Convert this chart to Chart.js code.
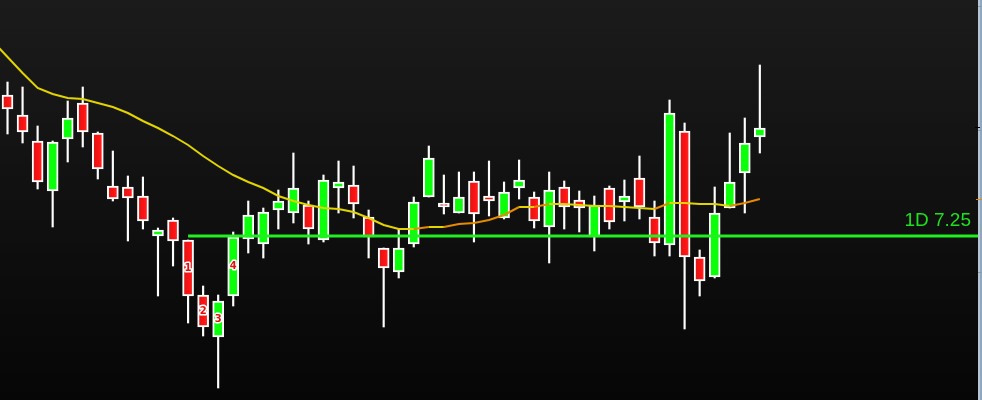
<!DOCTYPE html>
<html>
<head>
<meta charset="utf-8">
<script src="https://cdn.jsdelivr.net/npm/chart.js@4/dist/chart.umd.min.js"></script>
<style>
  html, body { margin: 0; padding: 0; background: #0b0b0b; }
  #wrap { width: 982px; height: 400px; }
</style>
</head>
<body>
<div id="wrap"><canvas id="chartCandles"></canvas></div>
<script>
// Daily candles, values
const opens  = [8.66, 8.46, 8.20, 7.70, 8.22, 8.58, 8.28, 7.75, 7.74, 7.65,
                7.25, 7.41, 7.21, 6.66, 6.24, 6.65, 7.22, 7.17, 7.51, 7.48,
                7.56, 7.21, 7.73, 7.76, 7.44, 7.13, 6.89, 7.17, 7.64, 7.58,
                7.48, 7.80, 7.65, 7.43, 7.73, 7.64, 7.34, 7.74, 7.61, 7.24,
                7.73, 7.59, 7.83, 7.44, 7.16, 8.30, 7.04, 6.84, 7.53, 7.88, 8.24];
const highs  = [8.79, 8.74, 8.35, 8.20, 8.60, 8.74, 8.29, 8.10, 7.85, 7.84,
                7.33, 7.43, 7.21, 6.75, 6.66, 7.29, 7.60, 7.53, 7.71, 8.08,
                7.60, 7.86, 8.00, 7.95, 7.51, 7.13, 7.32, 7.64, 8.15, 7.86,
                7.89, 7.89, 8.00, 7.79, 8.01, 7.69, 7.89, 7.80, 7.70, 7.65,
                7.75, 7.81, 8.05, 7.60, 8.61, 8.38, 7.11, 7.74, 8.28, 8.43, 8.96];
const lows   = [8.27, 8.18, 7.72, 7.34, 7.99, 8.14, 7.82, 7.60, 7.20, 7.32,
                6.65, 6.95, 6.38, 6.25, 5.73, 6.55, 7.08, 7.03, 7.32, 7.38,
                7.17, 7.19, 7.48, 7.43, 7.03, 6.34, 6.83, 7.14, 7.64, 7.47,
                7.48, 7.19, 7.45, 7.42, 7.62, 7.33, 6.98, 7.32, 7.29, 7.10,
                7.32, 7.40, 7.42, 7.05, 7.05, 6.32, 6.65, 6.83, 7.53, 7.48, 8.08];
const closes = [8.52, 8.29, 7.79, 8.19, 8.43, 8.29, 7.92, 7.62, 7.63, 7.40,
                7.31, 7.20, 6.65, 6.34, 6.60, 7.24, 7.46, 7.49, 7.60, 7.73,
                7.32, 7.81, 7.79, 7.57, 7.24, 6.93, 7.13, 7.59, 8.03, 7.54,
                7.64, 7.47, 7.60, 7.69, 7.81, 7.40, 7.71, 7.54, 7.53, 7.56,
                7.39, 7.65, 7.54, 7.18, 8.48, 7.04, 6.80, 7.48, 7.79, 8.18, 8.33];

// moving average, first value belongs to the bar before the first candle
const maStart = -1;
const maValues = [9.20, 9.04, 8.88, 8.73, 8.67, 8.63, 8.62, 8.58, 8.54, 8.48, 8.40,
                  8.33, 8.25, 8.16, 8.05, 7.95, 7.86, 7.79, 7.73, 7.65, 7.60,
                  7.56, 7.53, 7.52, 7.49, 7.43, 7.36, 7.32, 7.32, 7.34, 7.34,
                  7.37, 7.38, 7.41, 7.46, 7.54, 7.54, 7.57, 7.57, 7.56, 7.55,
                  7.55, 7.54, 7.53, 7.52, 7.58, 7.58, 7.57, 7.57, 7.55, 7.58, 7.62];

// horizontal level and the numbered candles
const levelValue = 7.25;
const levelLabel = "1D 7.25";
const levelFrom = 12;
const markIndex = [12, 13, 14, 15];
const markText = ["1", "2", "3", "4"];

// price axis marks on the right edge
const axisTicks = [9.55, 8.31, 6.89];
const priceMin = 5.61;
const priceMax = 9.61;
const slots = 65;

const upColor = "#0bff0b";
const maFall = "#e2d400";
const maRise = "#e68a00";
const levelColor = "#22ee22";

const wickData = opens.map((o, i) => ({ x: i, y: [lows[i], highs[i]] }));
const bodyData = opens.map((o, i) => ({ x: i, y: [o, closes[i]] }));
const maData = maValues.map((v, i) => ({ x: maStart + i, y: v }));
const levelData = [{ x: levelFrom, y: levelValue }, { x: slots - 0.5, y: levelValue }];

function bodyColor(ctx) {
  const i = ctx.dataIndex;
  if (i === undefined) return "#ff1010";
  if (closes[i] >= opens[i]) return upColor;
  const chart = ctx.chart;
  const xs = chart.scales.x;
  const px = xs ? xs.getPixelForValue(i) : NaN;
  if (!isFinite(px)) return "#ff1010";
  const g = chart.ctx.createLinearGradient(px - 5, 0, px + 5, 0);
  g.addColorStop(0, "#d81818");
  g.addColorStop(0.6, "#ff1212");
  g.addColorStop(1, "#ff2a2a");
  return g;
}

const background = {
  id: "background",
  beforeDraw(chart) {
    const c = chart.ctx;
    const g = c.createLinearGradient(0, 0, 0, chart.height);
    g.addColorStop(0, "#1b1b1b");
    g.addColorStop(1, "#060606");
    c.save();
    c.fillStyle = g;
    c.fillRect(0, 0, chart.width, chart.height);
    c.restore();
  }
};

const overlay = {
  id: "overlay",
  afterDraw(chart) {
    const c = chart.ctx;
    const xs = chart.scales.x;
    const ys = chart.scales.y;
    const area = chart.chartArea;
    c.save();

    // numbered candles
    c.font = "bold 10px 'DejaVu Sans'";
    c.textAlign = "center";
    c.textBaseline = "middle";
    c.lineJoin = "round";
    markIndex.forEach((idx, k) => {
      const px = xs.getPixelForValue(idx);
      const py = ys.getPixelForValue((opens[idx] + closes[idx]) / 2);
      c.lineWidth = 3;
      c.strokeStyle = "#ffffff";
      c.strokeText(markText[k], px, py);
      c.fillStyle = "#e01010";
      c.fillText(markText[k], px, py);
    });

    // level label
    const ly = ys.getPixelForValue(levelValue);
    c.font = "19px 'Liberation Sans Narrow', 'Liberation Sans', sans-serif";
    c.textAlign = "right";
    c.textBaseline = "alphabetic";
    c.fillStyle = "#1fe01f";
    c.fillText(levelLabel, area.right - 7, ly - 10);

    // price axis strip
    c.fillStyle = "#b4c5d6";
    c.fillRect(area.right, 0, 2, chart.height);
    c.fillStyle = "#92a7bb";
    c.fillRect(area.right + 2, 0, chart.width - area.right - 2, chart.height);
    axisTicks.forEach(v => {
      const py = Math.round(ys.getPixelForValue(v)) + 0.5;
      c.strokeStyle = "#8a9aaa";
      c.lineWidth = 1;
      c.beginPath();
      c.moveTo(area.right, py);
      c.lineTo(chart.width, py);
      c.stroke();
    });
    const tickY = Math.round(ys.getPixelForValue(axisTicks[1])) - 2.5;
    c.strokeStyle = "#000000";
    c.beginPath();
    c.moveTo(area.right - 3, tickY);
    c.lineTo(area.right + 2, tickY);
    c.stroke();
    const maY = Math.round(ys.getPixelForValue(maValues[maValues.length - 1])) + 0.5;
    c.strokeStyle = maRise;
    c.beginPath();
    c.moveTo(area.right - 2, maY);
    c.lineTo(chart.width, maY);
    c.stroke();
    c.restore();
  }
};

const chartCandles = document.getElementById("chartCandles");
new Chart(chartCandles, {
  type: "bar",
  data: {
    datasets: [
      {
        type: "line",
        label: "MA",
        data: maData,
        borderColor: maFall,
        borderWidth: 2,
        pointRadius: 0,
        tension: 0,
        segment: {
          borderColor: ctx => (ctx.p1.parsed.y > ctx.p0.parsed.y ? maRise : maFall),
        },
        order: 1,
      },
      {
        type: "line",
        label: levelLabel,
        data: levelData,
        borderColor: levelColor,
        borderWidth: 3,
        pointRadius: 0,
        order: 0,
      },
      {
        label: "Body",
        data: bodyData,
        backgroundColor: bodyColor,
        borderColor: "#ffffff",
        borderWidth: 2,
        borderSkipped: false,
        barThickness: 11,
        grouped: false,
        order: 2,
      },
      {
        label: "Wick",
        data: wickData,
        backgroundColor: "#ffffff",
        borderWidth: 0,
        barThickness: 1.5,
        grouped: false,
        order: 3,
      },
    ],
  },
  options: {
    responsive: true,
    maintainAspectRatio: false,
    animation: false,
    layout: { padding: { right: 4 } },
    plugins: { legend: { display: false }, tooltip: { enabled: false } },
    scales: {
      x: {
        type: "linear",
        min: -0.5,
        max: slots - 0.5,
        offset: false,
        bounds: "ticks",
        grid: { offset: false },
        display: false,
      },
      y: { min: priceMin, max: priceMax, display: false },
    },
  },
  plugins: [background, overlay],
});
</script>
</body>
</html>
